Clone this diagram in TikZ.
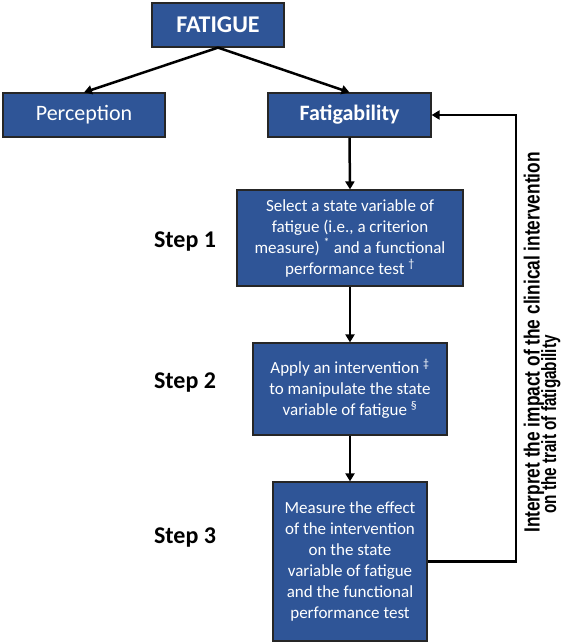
\documentclass[tikz,border=0pt]{standalone}
\usepackage{fontspec}
\usepackage{graphicx}
\setmainfont{Carlito}
\newfontfamily\notefont{Liberation Sans}
\usetikzlibrary{arrows.meta}
\definecolor{boxblue}{HTML}{2F5597}
\begin{document}
\begin{tikzpicture}[x=1pt,y=-1pt,
        box/.style={draw=black!85,line width=1.2pt,fill=boxblue,text=white,inner sep=0pt,align=center,font=\fontsize{17}{21}\selectfont},
        steplabel/.style={font=\fontsize{24}{28}\selectfont\bfseries},
        link/.style={line width=2.5pt,-{Triangle[length=8pt,width=9pt]}}]
        \useasboundingbox (0,0) rectangle (561,644);
        \node[box,minimum width=132pt,minimum height=44pt,font=\fontsize{24}{28}\selectfont\bfseries] (fatigue) at (218,25) {FATIGUE};
        \node[box,minimum width=162pt,minimum height=44pt,font=\fontsize{22}{26}\selectfont] (perception) at (84,115) {Perception};
        \node[box,minimum width=163pt,minimum height=44pt,font=\fontsize{22}{26}\selectfont\bfseries] (fatigability) at (349.5,115) {Fatigability};
        \node[box,minimum width=226pt,minimum height=96pt] (select) at (350,238) {Select a state variable of\\fatigue (i.e., a criterion\\measure) \textsuperscript{*} and a functional\\performance test \textsuperscript{†}};
        \node[box,minimum width=194pt,minimum height=92pt] (apply) at (350,389) {Apply an intervention \textsuperscript{‡}\\to manipulate the state\\variable of fatigue \textsuperscript{§}};
        \node[box,minimum width=154pt,minimum height=159pt] (measure) at (350,561.5) {Measure the effect\\of the intervention\\on the state\\variable of fatigue\\and the functional\\performance test};
        \node[steplabel] (step1) at (185,242) {Step 1};
        \node[steplabel] (step2) at (185,383) {Step 2};
        \node[steplabel] (step3) at (185,538) {Step 3};
        \node[rotate=90,anchor=base west,inner sep=0pt,font=\notefont\fontsize{17.3}{20}\selectfont\bfseries] (interp) at (539.5,533) {\scalebox{1}[1.27]{Interpret the impact of the clinical intervention}};
        \node[rotate=90,anchor=base west,inner sep=0pt,font=\notefont\fontsize{15.3}{18}\selectfont\bfseries] (trait) at (556,514) {\scalebox{1}[1.35]{on the trait of fatigability}};
        \coordinate (turn) at (516,561.5);
        \draw[link] (fatigue.south) -- (perception.north);
        \draw[link] (fatigue.south) -- (fatigability.north);
        \draw[link] (fatigability.south) -- (select.north);
        \draw[link] (select.south) -- (apply.north);
        \draw[link] (apply.south) -- (measure.north);
        \draw[link] (measure.east) -- (turn) |- (fatigability.east);
\end{tikzpicture}
\end{document}
